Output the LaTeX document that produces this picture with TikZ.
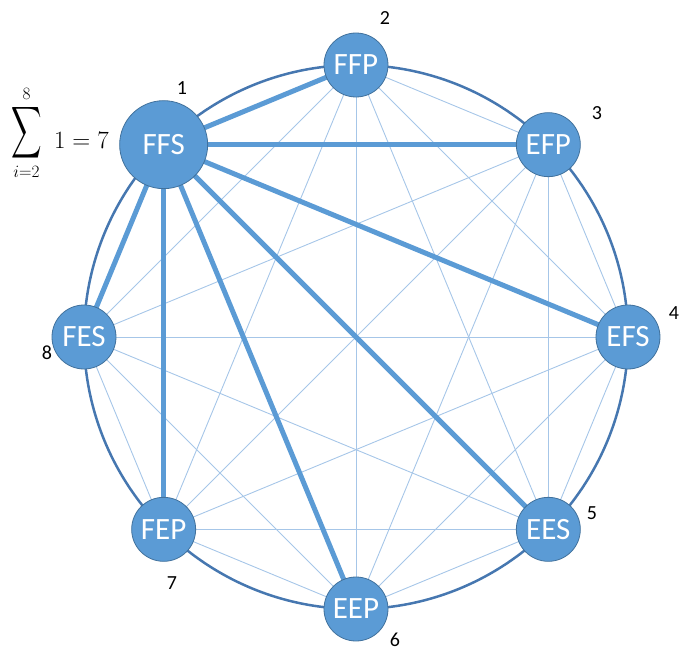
\documentclass[tikz,border=0pt]{standalone}
\usepackage[no-math]{fontspec}
\usepackage{graphicx}
\usepackage{exscale}
\newfontfamily\carlito{Carlito}
\definecolor{nodefill}{HTML}{5B9BD5}
\definecolor{nodeline}{HTML}{41719C}
\definecolor{ringline}{HTML}{4677B0}
\definecolor{thinblue}{HTML}{A6C6E8}
\tikzset{
  st/.style={circle, fill=nodefill, draw=nodeline, line width=0.8pt, minimum size=64pt, inner sep=0pt, text=white, font=\carlito\fontsize{31}{31}\selectfont},
  bigst/.style={st, minimum size=88pt},
  lab/.style={font=\carlito\fontsize{20}{20}\selectfont, text=black, inner sep=0pt},
  thinedge/.style={draw=thinblue, line width=0.9pt},
  thickedge/.style={draw=nodefill, line width=5pt},
  ring/.style={draw=ringline, line width=2.5pt}
}
\begin{document}
\begin{tikzpicture}[x=1pt,y=1pt]
\useasboundingbox (-356,-317) rectangle (325,337);
\coordinate (c) at (0,0);
\draw[ring] (c) circle (272);
\coordinate (p1) at (135:272);
\coordinate (p2) at (90:272);
\coordinate (p3) at (45:272);
\coordinate (p4) at (0:272);
\coordinate (p5) at (-45:272);
\coordinate (p6) at (-90:272);
\coordinate (p7) at (-135:272);
\coordinate (p8) at (180:272);
\foreach \i in {2,...,8}{
  \foreach \j in {2,...,8}{
    \ifnum\i<\j
      \draw[thinedge] (p\i) -- (p\j);
    \fi
  }
}
\foreach \j in {2,...,8}{
  \draw[thickedge] (p1) -- (p\j);
}
\node[bigst] (n1) at (p1) {FFS};
\node[st] (n2) at (p2) {FFP};
\node[st] (n3) at (p3) {EFP};
\node[st] (n4) at (p4) {EFS};
\node[st] (n5) at (p5) {EES};
\node[st] (n6) at (p6) {EEP};
\node[st] (n7) at (p7) {FEP};
\node[st] (n8) at (p8) {FES};
\node[lab] (l1) at (-174,249) {1};
\node[lab] (l2) at (29,319) {2};
\node[lab] (l3) at (241,224) {3};
\node[lab] (l4) at (318,24) {4};
\node[lab] (l5) at (236,-176) {5};
\node[lab] (l6) at (39,-303) {6};
\node[lab] (l7) at (-184,-246) {7};
\node[lab] (l8) at (-309,-16) {8};
\node[anchor=base west, inner sep=0pt, font=\fontsize{27}{27}\selectfont] (sum) at (-345,189) {$\displaystyle\mathop{\raisebox{6pt}{\scalebox{0.85}[1.45]{$\displaystyle\sum$}}}\limits_{i=2}^{8}\mkern6mu 1 = 7$};
\end{tikzpicture}
\end{document}
